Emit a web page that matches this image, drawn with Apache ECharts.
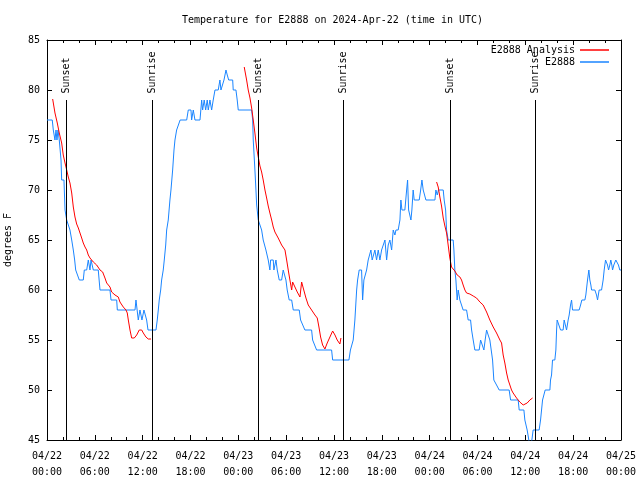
<!DOCTYPE html>
<html>
<head>
<meta charset="utf-8">
<script src="https://cdn.jsdelivr.net/npm/echarts@6/dist/echarts.min.js"></script>
<style>html,body{margin:0;padding:0;background:#fff}#c{width:640px;height:480px}</style>
</head>
<body>
<div id="c"></div>
<script>
// hours since 2024-04-22 00:00 UTC
var tickLabels = ['04/22\n00:00','04/22\n06:00','04/22\n12:00','04/22\n18:00','04/23\n00:00','04/23\n06:00','04/23\n12:00','04/23\n18:00','04/24\n00:00','04/24\n06:00','04/24\n12:00','04/24\n18:00','04/25\n00:00'];
var yTicks = [45,50,55,60,65,70,75,80,85];

var sunTimes = [2.42, 13.2, 26.5, 37.16, 50.62, 61.28];
var sunNames = ['Sunset','Sunrise','Sunset','Sunrise','Sunset','Sunrise'];

var obsTime = [0,0.66,0.79,1.0,1.13,1.25,1.38,1.54,1.76,1.84,2.13,2.26,2.47,2.67,2.88,3.1,3.3,3.47,3.6,3.8,4.05,4.55,4.68,4.98,5.18,5.39,5.52,5.81,6.43,6.65,7.9,8.03,8.74,8.82,11.04,11.16,11.45,11.66,11.91,12.16,12.5,12.67,13.67,13.83,13.96,14.08,14.26,14.38,14.58,14.71,14.89,15.01,15.21,15.42,15.55,15.76,15.93,16.05,16.26,16.7,17.52,17.72,18.06,18.14,18.35,18.56,19.19,19.4,19.52,19.72,19.9,20.1,20.23,20.44,20.65,20.85,21.07,21.48,21.69,21.82,22.03,22.2,22.45,22.61,22.79,23.29,23.36,23.7,23.86,23.99,25.67,25.8,25.87,26.08,26.21,26.3,26.5,26.71,26.92,27.12,27.34,27.46,27.63,27.75,27.96,28.05,28.38,28.46,28.72,28.88,29.13,29.43,29.63,29.85,29.97,30.13,30.38,30.69,30.89,31.64,31.81,32.35,33.19,33.32,33.82,35.7,35.83,37.87,38.06,38.41,38.62,38.84,38.96,39.16,39.46,39.59,39.75,39.88,40.09,40.29,40.5,40.63,40.79,41.13,41.34,41.55,41.76,41.97,42.17,42.39,42.6,42.8,43.01,43.23,43.43,43.64,43.77,44.05,44.27,44.39,44.52,44.89,45.11,45.23,45.36,45.52,45.65,45.77,45.93,46.06,46.69,46.87,47.03,47.19,47.4,47.53,48.66,48.78,48.95,49.1,49.7,49.82,50.0,50.12,50.32,50.95,51.04,51.16,51.29,51.45,51.58,51.79,52.0,52.2,52.63,52.83,53.13,53.26,53.46,53.67,54.21,54.39,54.64,54.8,54.96,55.14,55.34,55.55,55.74,55.89,56.05,56.22,56.39,56.72,57.97,58.15,59.1,59.23,59.82,59.94,60.23,60.44,60.63,60.82,60.98,61.73,61.91,62.16,62.32,62.49,63.08,63.16,63.29,63.41,63.7,63.83,63.92,63.99,64.24,64.42,64.74,64.87,65.08,65.17,65.37,65.5,65.67,65.8,65.92,66.75,66.93,67.09,67.47,67.59,67.8,67.97,68.09,68.22,68.31,68.72,68.93,69.06,69.26,69.56,69.76,69.89,70.06,70.19,70.31,70.44,70.6,70.72,70.85,70.94,71.1,71.35,71.5,71.68,71.85,72];
var obsTemp = [77,77,76,75,76,75,76,75,73,71,71,68,67,67,66,65,64,63,62,62,61,61,62,62,63,62,63,62,62,60,60,59,59,58,58,59,57,58,57,58,57,56,56,57,58,59,60,61,62,63,64.5,66,67,69,70,72,74,75,76,77,77,78,78,77,78,77,77,79,78,79,78,79,78,79,78,79,80,80,81,80,80,81,82,81.5,81,81,80,80,79,78,78,77,75,72,70,68.5,67,67,66,65,65,64,64,63,62,63,63,62,63,62,61,61,62,62,61,60,59,59,58,58,57,56,56,55,54,54,53,53,54,55,57,60,61,62,62,59,61,61,62,63,63,64,63,64,63,64,63,64,64,65,63,64.5,65,64,66,65.5,66,66,67,69,68,68,70,71,68,68,67,68,70,69,69,70,71,70,70,69,69,70,69.5,70,70,69,68,66,65,65,64,62,61,59,60,59,59,58,58,57,57,56,55,54,54,55,55,54,55,56,55.5,55,55,53,51,51,50.5,50,50,49,49,48,48,47,46,45,44,45,46,46,47,49,49,50,50,51,51.5,53,53,54,56,57,57,56,56,57,57,56,57,57.5,58.5,59,58,58,58.5,59,59,59.5,61,62,61,60.5,60,60,59.5,59,60,60,61,62,63,63,62.5,62,62.5,63,62.5,62,62.5,63,63,62.5,62,62];

var anaTime = [0.71,1.0,1.29,1.54,1.84,2.04,2.26,2.47,2.67,2.88,3.1,3.3,3.51,3.72,3.93,4.14,4.35,4.55,4.77,4.98,5.18,5.39,5.81,6.23,6.65,6.98,7.27,7.49,7.9,8.11,8.53,8.94,9.15,9.57,9.91,10.07,10.2,10.41,10.62,10.95,11.25,11.57,11.88,12.08,12.41,12.7,13.04,
  18.9,
  24.74,25.04,25.24,25.46,25.67,25.87,26.08,26.3,26.5,26.71,26.92,27.12,27.34,27.55,27.75,27.96,28.18,28.38,28.59,28.8,29.0,29.43,29.85,30.06,30.26,30.47,30.69,30.81,31.1,31.39,31.73,31.94,32.14,32.48,32.77,33.19,33.61,33.9,34.11,34.32,34.57,34.86,35.15,35.49,35.83,36.12,36.4,36.74,36.87,
  42.8,
  48.87,49.07,49.28,49.49,49.7,49.91,50.12,50.32,50.53,50.74,50.95,51.16,51.45,51.79,52.0,52.2,52.42,52.63,53.04,53.46,53.88,54.3,54.71,55.14,55.55,55.97,56.39,56.81,57.02,57.22,57.43,57.65,57.85,58.06,58.27,58.47,58.9,59.31,59.73,59.94,60.23,60.57,60.91];
var anaTemp = [79.1,77.7,76.7,75.7,74.7,73.5,72.7,72.0,71.3,70.7,69.7,68.3,67.3,66.6,66.2,65.7,65.2,64.7,64.3,64.0,63.5,63.2,62.8,62.5,62.0,61.8,61.2,60.7,60.3,59.8,59.5,59.3,58.8,58.3,58.0,57.7,57.0,56.0,55.2,55.2,55.5,56.0,56.0,55.7,55.3,55.1,55.1,
  null,
  82.3,81.0,80.0,79.2,78.2,77.0,75.7,74.2,73.3,72.4,71.8,71.0,70.0,69.2,68.4,67.7,67.0,66.3,65.8,65.6,65.2,64.5,64.0,63.0,62.0,61.0,60.0,60.8,60.3,59.8,59.3,60.8,60.2,59.2,58.5,58.0,57.5,57.2,56.3,55.3,54.5,54.1,54.7,55.3,55.9,55.5,55.0,54.6,55.2,
  null,
  70.8,70.3,69.3,68.4,67.2,66.4,65.7,64.5,63.2,62.3,62.1,61.9,61.5,61.3,61.0,60.5,60.0,59.7,59.6,59.4,59.2,58.8,58.5,57.8,57.0,56.3,55.7,55.0,54.7,53.5,52.7,51.7,51.0,50.5,50.0,49.7,49.2,48.8,48.5,48.3,48.7,49.0,49.2];

var FONT = 'DejaVu Sans Mono';
var obsData = obsTime.map(function(t,i){return [t, obsTemp[i]];});
var anaData = anaTime.map(function(t,i){return [t, anaTemp[i] === null ? '-' : anaTemp[i]];});
var sunLines = sunTimes.map(function(t){return [{coord:[t,79]},{coord:[t,45]}];});
var sunLabels = sunTimes.map(function(t,i){return {value:[t,79], name:sunNames[i]};});

var chart = echarts.init(document.getElementById('c'));
var axisCommon = {
  axisLine:{show:true, onZero:false, lineStyle:{color:'#000', width:1}},
  axisTick:{show:true, inside:true, length:5, lineStyle:{color:'#000'}},
  splitLine:{show:false}
};
chart.setOption({
  animation:false,
  backgroundColor:'#fff',
  title:{text:'Temperature for E2888 on 2024-Apr-22 (time in UTC)', left:177, top:10,
    textStyle:{fontFamily:FONT, fontSize:10, fontWeight:'normal', color:'#000'}},
  legend:[
    {data:['E2888 Analysis'], right:26, top:39, align:'right', icon:'rect', itemWidth:29, itemHeight:1.5, selectedMode:false,
     textStyle:{fontFamily:FONT, fontSize:10, color:'#000', lineHeight:12}},
    {data:['E2888'], right:26, top:51, align:'right', icon:'rect', itemWidth:29, itemHeight:1.5, selectedMode:false,
     textStyle:{fontFamily:FONT, fontSize:10, color:'#000', lineHeight:12}}
  ],
  grid:{left:47, right:19, top:40, bottom:40, containLabel:false, outerBoundsMode:'none'},
  xAxis:[
    Object.assign({type:'value', min:0, max:72, interval:6, position:'bottom',
      minorTick:{show:true, splitNumber:3, length:3, lineStyle:{color:'#000'}},
      axisLabel:{fontFamily:FONT, fontSize:10, color:'#000', margin:8, lineHeight:16,
        formatter:function(v){return tickLabels[Math.round(v/6)];}}}, axisCommon),
    Object.assign({type:'value', min:0, max:72, interval:6, position:'top',
      minorTick:{show:true, splitNumber:3, length:3, lineStyle:{color:'#000'}},
      axisLabel:{show:false}}, axisCommon)
  ],
  yAxis:[
    Object.assign({type:'value', min:45, max:85, interval:5, position:'left',
      name:'degrees F', nameLocation:'middle', nameGap:34,
      nameTextStyle:{fontFamily:FONT, fontSize:10, color:'#000'},
      axisLabel:{fontFamily:FONT, fontSize:10, color:'#000', margin:7,
        formatter:function(v){return yTicks.indexOf(v) >= 0 ? String(v) : '';}}}, axisCommon),
    Object.assign({type:'value', min:45, max:85, interval:5, position:'right',
      axisLabel:{show:false}}, axisCommon)
  ],
  series:[
    {name:'E2888 Analysis', type:'line', data:anaData, showSymbol:false, connectNulls:false,
     lineStyle:{color:'#ff0000', width:1}, itemStyle:{color:'#ff0000'}, z:3},
    {name:'E2888', type:'line', data:obsData, showSymbol:false,
     lineStyle:{color:'#1a85ff', width:1}, itemStyle:{color:'#1a85ff'}, z:2},
    {name:'sun', type:'scatter', data:sunLabels, symbolSize:1, itemStyle:{color:'rgba(0,0,0,0)'}, silent:true,
     label:{show:true, formatter:function(p){return p.name;}, position:'top', distance:6, rotate:90,
       align:'left', verticalAlign:'middle', fontFamily:FONT, fontSize:10, color:'#000', opacity:1},
     markLine:{silent:true, symbol:['none','none'], label:{show:false},
       lineStyle:{color:'#000', width:1, type:'solid'}, data:sunLines}, z:1}
  ]
});
</script>
</body>
</html>
